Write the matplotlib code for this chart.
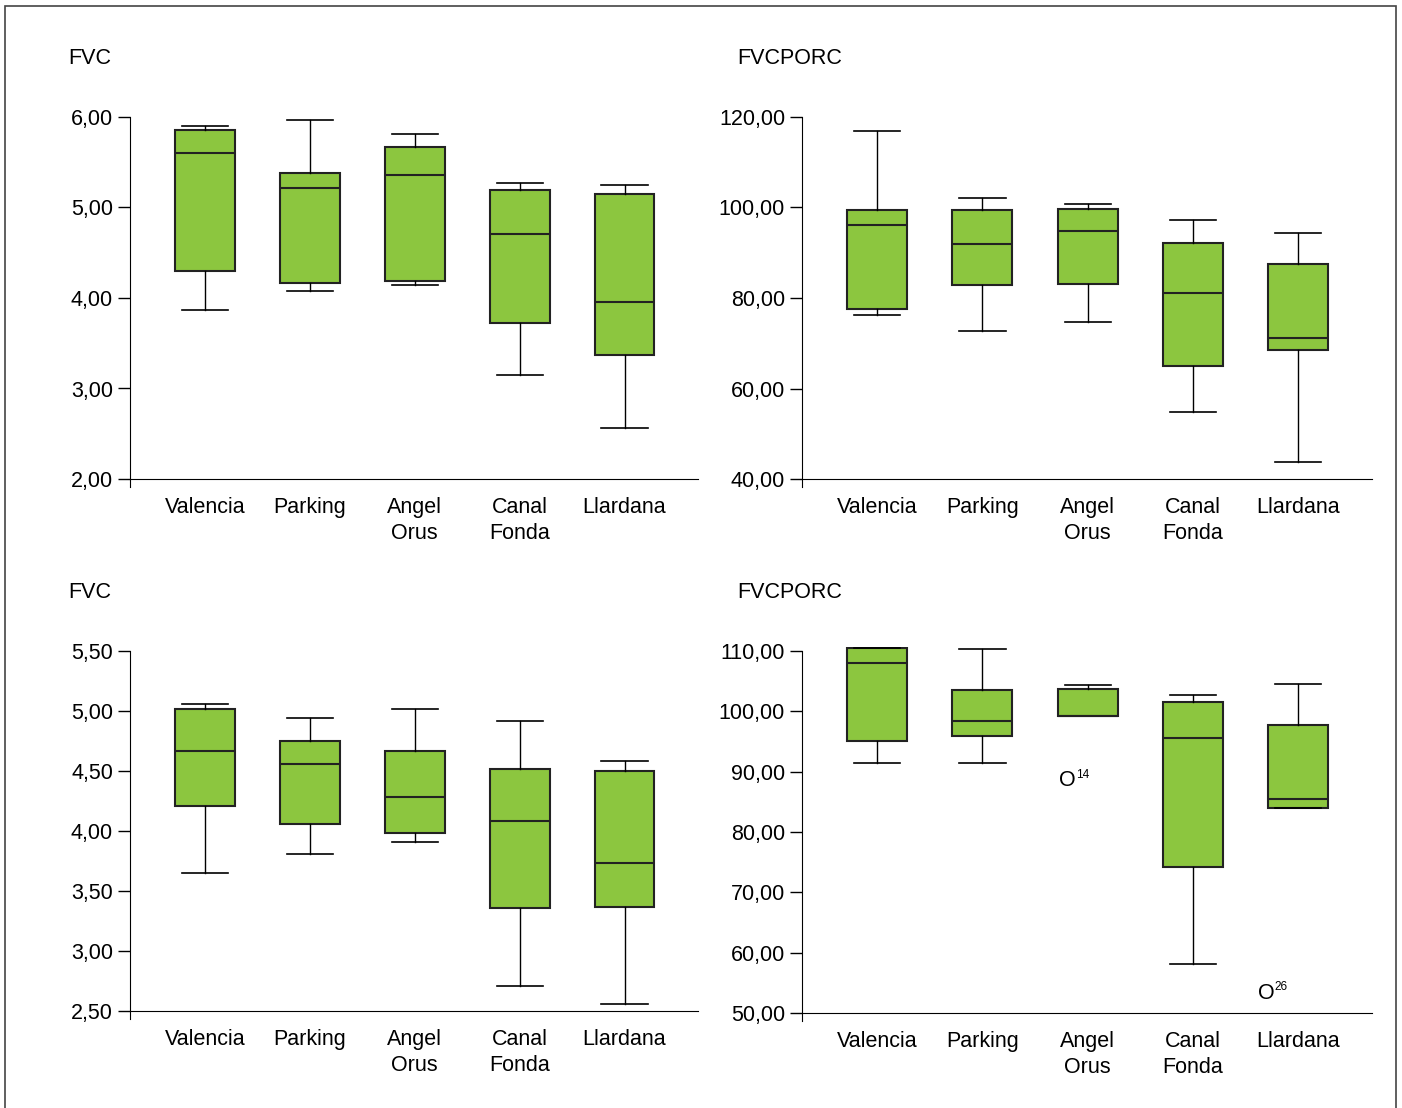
import matplotlib.pyplot as plt
from matplotlib.patches import Rectangle

plt.rcParams['font.family'] = ['Liberation Sans', 'DejaVu Sans']

sites = ["Valencia", "Parking", "Angel\nOrus", "Canal\nFonda", "Llardana"]
GREEN = "#8cc63f"

# panel 1: FVC (top)
fvc1_whishi = [5.90, 5.97, 5.81, 5.27, 5.25]
fvc1_q3 = [5.86, 5.38, 5.67, 5.19, 5.15]
fvc1_med = [5.60, 5.22, 5.36, 4.71, 3.96]
fvc1_q1 = [4.30, 4.17, 4.19, 3.72, 3.37]
fvc1_whislo = [3.87, 4.08, 4.14, 3.15, 2.56]
fvc1_ticks = [2, 3, 4, 5, 6]
fvc1_labels = ["2,00", "3,00", "4,00", "5,00", "6,00"]

# panel 2: FVCPORC (top)
pct1_whishi = [116.9, 102.1, 100.8, 97.2, 94.4]
pct1_q3 = [99.4, 99.4, 99.7, 92.2, 87.5]
pct1_med = [96.1, 91.9, 94.8, 81.1, 71.2]
pct1_q1 = [77.6, 82.9, 83.1, 65.0, 68.5]
pct1_whislo = [76.2, 72.7, 74.7, 54.8, 43.8]
pct1_ticks = [40, 60, 80, 100, 120]
pct1_labels = ["40,00", "60,00", "80,00", "100,00", "120,00"]

# panel 3: FVC (bottom)
fvc2_whishi = [5.06, 4.94, 5.02, 4.92, 4.58]
fvc2_q3 = [5.02, 4.75, 4.67, 4.52, 4.50]
fvc2_med = [4.67, 4.56, 4.28, 4.08, 3.73]
fvc2_q1 = [4.21, 4.06, 3.98, 3.36, 3.37]
fvc2_whislo = [3.65, 3.81, 3.91, 2.71, 2.56]
fvc2_ticks = [2.5, 3.0, 3.5, 4.0, 4.5, 5.0, 5.5]
fvc2_labels = ["2,50", "3,00", "3,50", "4,00", "4,50", "5,00", "5,50"]

# panel 4: FVCPORC (bottom)
pct2_whishi = [110.5, 110.3, 104.4, 102.7, 104.5]
pct2_q3 = [110.5, 103.5, 103.7, 101.5, 97.7]
pct2_med = [108.0, 98.4, 99.2, 95.6, 85.5]
pct2_q1 = [95.1, 95.9, 99.2, 74.2, 84.0]
pct2_whislo = [91.4, 91.4, 99.2, 58.1, 84.0]
pct2_ticks = [50, 60, 70, 80, 90, 100, 110]
pct2_labels = ["50,00", "60,00", "70,00", "80,00", "90,00", "100,00", "110,00"]
pct2_outlier_site = [2, 4]
pct2_outlier_val = [88.5, 53.3]
pct2_outlier_id = ["14", "26"]
outlier_shift = [-20, -32]  # pixels, label sits left of the box centre

W, H = 1402, 1108
FS = 15.5


def draw_panel(x0, x1, y0, y1, title, title_x, whishi, q3, med, q1, whislo,
               ticks, labels, ymin, ymax):
    # y0/y1 = pixel rows of ymin/ymax; y spine runs 8 px below the x axis
    ppu = (y0 - y1) / (ymax - ymin)
    below, above = 8, 4
    rect = [x0 / W, 1 - (y0 + below) / H, (x1 - x0) / W, (y0 - y1 + below + above) / H]
    ax = fig.add_axes(rect)
    stats = []
    for i in range(len(sites)):
        stats.append(dict(med=med[i], q1=q1[i], q3=q3[i],
                          whislo=whislo[i], whishi=whishi[i], fliers=[]))
    ax.bxp(stats, positions=range(len(sites)), widths=0.57, capwidths=0.44,
           patch_artist=True, showfliers=False,
           boxprops=dict(facecolor=GREEN, edgecolor="#222222", linewidth=1.5),
           medianprops=dict(color="#222222", linewidth=1.5),
           whiskerprops=dict(color="black", linewidth=1.0),
           capprops=dict(color="black", linewidth=1.2))
    ax.set_ylim(ymin - below / ppu, ymax + above / ppu)
    ax.set_xlim(-0.714, 4.70)
    ax.spines['bottom'].set_position(('data', ymin))
    ax.spines['left'].set_bounds(ymin - below / ppu, ymax)
    ax.spines['top'].set_visible(False)
    ax.spines['right'].set_visible(False)
    ax.set_yticks(ticks)
    ax.set_yticklabels(labels)
    ax.tick_params(axis='y', length=8.6, width=1.0, pad=3.6, labelsize=FS)
    ax.set_xticks(range(len(sites)))
    ax.set_xticklabels(sites, fontsize=FS, linespacing=1.3)
    ax.tick_params(axis='x', length=0, pad=13)
    ax.patch.set_visible(False)
    fig.text(title_x / W, 1 - (y1 - 58) / H, title,
             fontsize=FS, ha='left', va='center')
    return ax


fig = plt.figure(figsize=(14.02, 11.08), dpi=100)
fig.patches.append(Rectangle((5 / W, -0.01), 1391 / W, 1.0 - 6 / H + 0.01,
                             transform=fig.transFigure, fill=False,
                             edgecolor="#444444", linewidth=1.2))

draw_panel(130, 698, 479, 117, "FVC", 68,
           fvc1_whishi, fvc1_q3, fvc1_med, fvc1_q1, fvc1_whislo,
           fvc1_ticks, fvc1_labels, 2, 6)
draw_panel(802, 1372, 479, 117, "FVCPORC", 737,
           pct1_whishi, pct1_q3, pct1_med, pct1_q1, pct1_whislo,
           pct1_ticks, pct1_labels, 40, 120)
draw_panel(130, 698, 1011, 651, "FVC", 68,
           fvc2_whishi, fvc2_q3, fvc2_med, fvc2_q1, fvc2_whislo,
           fvc2_ticks, fvc2_labels, 2.5, 5.5)
ax4 = draw_panel(802, 1372, 1013, 651, "FVCPORC", 737,
                 pct2_whishi, pct2_q3, pct2_med, pct2_q1, pct2_whislo,
                 pct2_ticks, pct2_labels, 50, 110)

for site, val, lab, dx in zip(pct2_outlier_site, pct2_outlier_val,
                              pct2_outlier_id, outlier_shift):
    ax4.annotate("O", xy=(site, val), xytext=(dx, 0), textcoords='offset pixels',
                 ha='center', va='center', fontsize=FS)
    ax4.annotate(lab, xy=(site, val), xytext=(dx + 8, 6), textcoords='offset pixels',
                 ha='left', va='center', fontsize=8.5)

fig.savefig("out.png", dpi=100)
